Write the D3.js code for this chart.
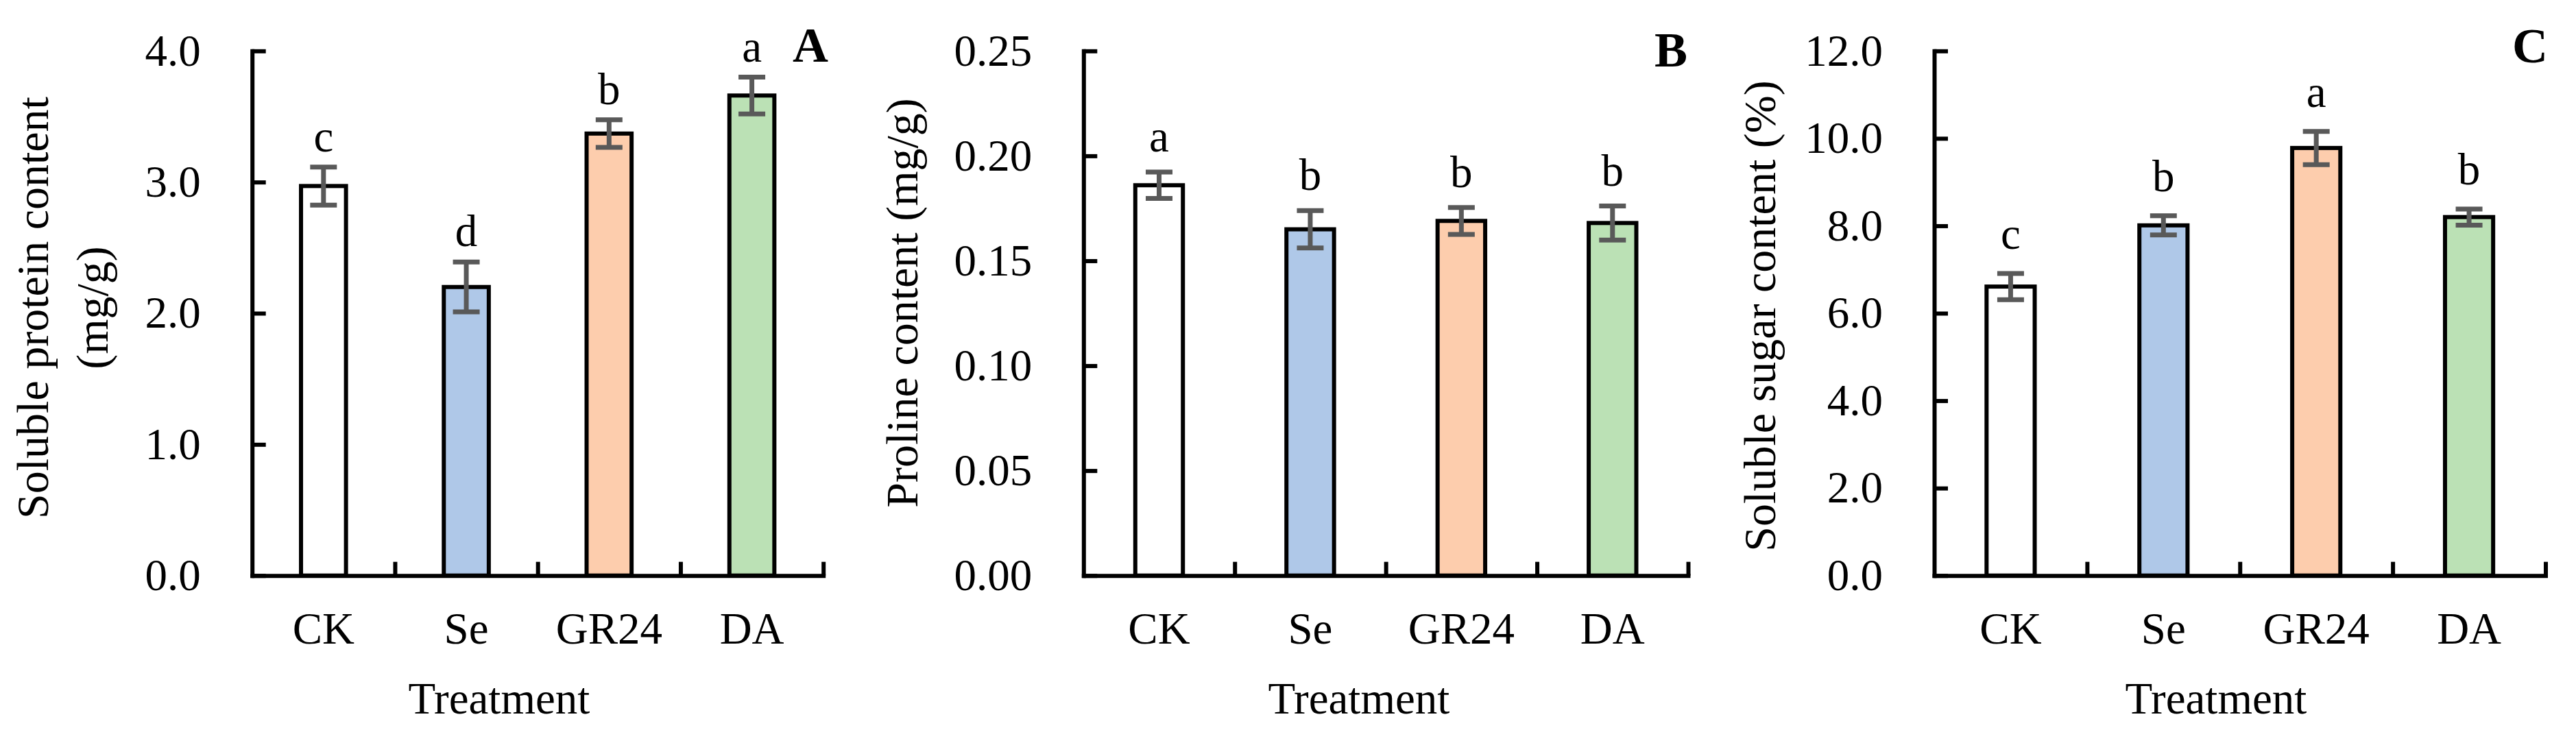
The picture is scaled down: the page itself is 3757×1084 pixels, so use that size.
<!DOCTYPE html>
<html>
<head>
<meta charset="utf-8">
<script src="https://cdn.jsdelivr.net/npm/d3@7"></script>
<style>
  html, body { margin: 0; padding: 0; background: #fff; }
  svg { display: block; }
</style>
</head>
<body>
<svg id="chart" width="3757" height="1084"></svg>
<script>
const categories = ["CK", "Se", "GR24", "DA"];
const barColors = ["#ffffff", "#afc8e8", "#fdcdad", "#bbe1b5"];

const proteinMean = [2.97, 2.20, 3.37, 3.66];
const proteinSE = [0.145, 0.19, 0.105, 0.14];
const proteinLetters = ["c", "d", "b", "a"];
const proteinTicks = [0, 1, 2, 3, 4];

const prolineMean = [0.186, 0.165, 0.169, 0.168];
const prolineSE = [0.0063, 0.0089, 0.0064, 0.0081];
const prolineLetters = ["a", "b", "b", "b"];
const prolineTicks = [0, 0.05, 0.10, 0.15, 0.20, 0.25];

const sugarMean = [6.61, 8.01, 9.78, 8.20];
const sugarSE = [0.30, 0.22, 0.38, 0.185];
const sugarLetters = ["c", "b", "a", "b"];
const sugarTicks = [0, 2, 4, 6, 8, 10, 12];

const FONT = "'Liberation Serif', 'Times New Roman', Times, serif";
const yTop = 74.3, yBottom = 839.7;

const panels = [
	{ tag: "A", mean: proteinMean, se: proteinSE, letters: proteinLetters, ticks: proteinTicks, fmt: ".1f",
		title: ["Soluble protein content", "(mg/g)"], titleX: [70, 157], titleY: 449,
		x0: 367.7, x1: 1200.7, tagX: 1208, tagY: 90, letterGap: 23, treatX: 728 },
	{ tag: "B", mean: prolineMean, se: prolineSE, letters: prolineLetters, ticks: prolineTicks, fmt: ".2f",
		title: ["Proline content (mg/g)"], titleX: [1338], titleY: 442,
		x0: 1580.3, x1: 2462, tagX: 2461, tagY: 97, letterGap: 30, treatX: 1982 },
	{ tag: "C", mean: sugarMean, se: sugarSE, letters: sugarLetters, ticks: sugarTicks, fmt: ".1f",
		title: ["Soluble sugar content (%)"], titleX: [2589], titleY: 461,
		x0: 2821, x1: 3712.5, tagX: 3716, tagY: 91, letterGap: 36, treatX: 3232 }
];

const svg = d3.select("#chart")
	.attr("font-family", FONT);

svg.append("rect")
	.attr("width", 3757)
	.attr("height", 1084)
	.attr("fill", "#fff");

panels.forEach(p => drawPanel(svg, p));

function drawPanel(svg, p) {
	const g = svg.append("g");
	const x = d3.scaleBand().domain(categories).range([p.x0, p.x1]).padding(0);
	const xEdge = d3.scaleLinear().domain([0, categories.length]).range([p.x0, p.x1]);
	const y = d3.scaleLinear().domain([0, p.ticks[p.ticks.length - 1]]).range([yBottom, yTop]);
	const barW = x.bandwidth() * 0.315;
	const capW = 39;

	const rows = categories.map((c, i) => ({
		cat: c, mean: p.mean[i], se: p.se[i], letter: p.letters[i], color: barColors[i]
	}));

	// bars
	g.append("g")
		.selectAll("rect")
		.data(rows)
		.join("rect")
		.attr("x", d => x(d.cat) + (x.bandwidth() - barW) / 2)
		.attr("y", d => y(d.mean))
		.attr("width", barW)
		.attr("height", d => y(0) - y(d.mean))
		.attr("fill", d => d.color)
		.attr("stroke", "#000")
		.attr("stroke-width", 6);

	// error bars
	const err = g.append("g")
		.attr("stroke", "#595959")
		.attr("stroke-width", 7)
		.selectAll("g")
		.data(rows)
		.join("g")
		.attr("transform", d => `translate(${x(d.cat) + x.bandwidth() / 2},0)`);
	err.append("line")
		.attr("y1", d => y(d.mean + d.se))
		.attr("y2", d => y(d.mean - d.se));
	err.append("line")
		.attr("x1", -capW / 2).attr("x2", capW / 2)
		.attr("y1", d => y(d.mean + d.se)).attr("y2", d => y(d.mean + d.se));
	err.append("line")
		.attr("x1", -capW / 2).attr("x2", capW / 2)
		.attr("y1", d => y(d.mean - d.se)).attr("y2", d => y(d.mean - d.se));

	// significance letters
	g.append("g")
		.selectAll("text")
		.data(rows)
		.join("text")
		.attr("x", d => x(d.cat) + x.bandwidth() / 2)
		.attr("y", d => y(d.mean + d.se) - p.letterGap)
		.attr("text-anchor", "middle")
		.attr("font-size", 65)
		.text(d => d.letter);

	// y axis
	g.append("g")
		.attr("transform", `translate(${p.x0},0)`)
		.call(d3.axisLeft(y)
			.tickValues(p.ticks)
			.tickFormat(d3.format(p.fmt))
			.tickSize(-20)
			.tickSizeOuter(0)
			.tickPadding(75))
		.call(a => a.attr("font-family", FONT).attr("font-size", 65))
		.call(a => a.selectAll("line").attr("stroke", "#000").attr("stroke-width", 6))
		.call(a => a.select(".domain").attr("stroke", "#000").attr("stroke-width", 6).attr("stroke-linecap", "square"))
		.call(a => a.selectAll("text").attr("fill", "#000"));

	// x axis with ticks between categories
	g.append("g")
		.attr("transform", `translate(0,${yBottom})`)
		.call(d3.axisBottom(xEdge)
			.tickValues(d3.range(1, categories.length + 1))
			.tickSize(-20)
			.tickSizeOuter(0)
			.tickFormat(() => ""))
		.call(a => a.selectAll("line").attr("stroke", "#000").attr("stroke-width", 6))
		.call(a => a.select(".domain").attr("stroke", "#000").attr("stroke-width", 6).attr("stroke-linecap", "square"));

	// category labels
	g.append("g")
		.attr("transform", `translate(0,${yBottom})`)
		.call(d3.axisBottom(x).tickSize(0).tickPadding(53))
		.call(a => a.attr("font-family", FONT).attr("font-size", 65))
		.call(a => a.select(".domain").remove())
		.call(a => a.selectAll("text").attr("fill", "#000"));

	// x title
	g.append("text")
		.attr("x", p.treatX)
		.attr("y", 1041)
		.attr("text-anchor", "middle")
		.attr("font-size", 65)
		.text("Treatment");

	// y title, one or two lines
	p.title.forEach((t, i) => {
		g.append("text")
			.attr("transform", `translate(${p.titleX[i]},${p.titleY}) rotate(-90)`)
			.attr("text-anchor", "middle")
			.attr("font-size", 66)
			.text(t);
	});

	// panel tag
	g.append("text")
		.attr("x", p.tagX)
		.attr("y", p.tagY)
		.attr("text-anchor", "end")
		.attr("font-size", 72)
		.attr("font-weight", "bold")
		.text(p.tag);
}
</script>
</body>
</html>
